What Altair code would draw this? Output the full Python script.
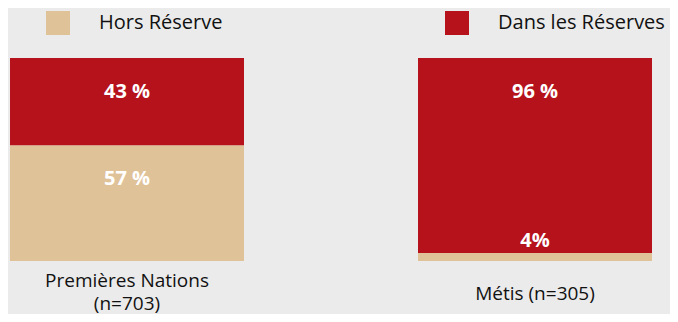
import altair as alt
import pandas as pd

categories = ["Premières Nations|(n=703)", "Métis (n=305)"]
series = ["Hors Réserve", "Dans les Réserves"]
hors_values = [57, 4]
dans_values = [43, 96]
hors_labels = ["57 %", "4%"]
dans_labels = ["43 %", "96 %"]
colors = ["#E0C299", "#B5121C"]

rows = []
for i, c in enumerate(categories):
    rows.append({"group": c, "series": series[0], "order": 0, "value": hors_values[i], "label": hors_labels[i]})
    rows.append({"group": c, "series": series[1], "order": 1, "value": dans_values[i], "label": dans_labels[i]})
df = pd.DataFrame(rows)

FONT = "Open Sans"

base = alt.Chart(df).transform_stack(
    stack="value", groupby=["group"], sort=[alt.SortField("order")], as_=["y0", "y1"]
)

x_enc = alt.X(
    "group:N",
    sort=categories,
    title=None,
    scale=alt.Scale(paddingInner=0.4265, paddingOuter=0),
    axis=alt.Axis(
        labelAngle=0,
        domain=False,
        ticks=False,
        tickSize=0,
        grid=False,
        labelFontSize=19,
        labelFont=FONT,
        labelColor="#111111",
        labelPadding={"condition": {"test": "indexof(datum.label, '|') < 0", "value": 32}, "value": 19},
        labelBaseline="middle",
        labelLineHeight=23,
        labelExpr="split(datum.label, '|')",
    ),
)
y_scale = alt.Scale(domain=[0, 100], nice=False, zero=True)

bars = base.mark_bar().encode(
    x=x_enc,
    y=alt.Y("y0:Q", scale=y_scale, axis=None),
    y2="y1:Q",
    color=alt.Color(
        "series:N",
        scale=alt.Scale(domain=series, range=colors),
        legend=alt.Legend(
            title=None,
            orient="none",
            legendX=36,
            legendY=-47,
            direction="horizontal",
            columns=2,
            symbolType="square",
            symbolSize=576,
            symbolStrokeWidth=0,
            symbolOpacity=1,
            labelFontSize=20,
            labelFont=FONT,
            labelColor="#111111",
            labelOffset=29,
            labelLimit=400,
            columnPadding=222,
        ),
    ),
)

text_big = base.transform_filter("datum.value >= 10").mark_text(
    color="white", fontWeight="bold", fontSize=20, font=FONT, baseline="middle", dy=34
).encode(x=alt.X("group:N", sort=categories), y=alt.Y("y1:Q", scale=y_scale), text="label:N")

text_small = base.transform_filter("datum.value < 10").mark_text(
    color="white", fontWeight="bold", fontSize=20, font=FONT, baseline="middle", dy=-12
).encode(x=alt.X("group:N", sort=categories), y=alt.Y("y1:Q", scale=y_scale), text="label:N")

chart = alt.layer(bars, text_big, text_small).properties(
    width=642,
    height=203,
    autosize=alt.AutoSizeParams(type="none"),
    padding={"left": 2, "top": 50, "right": 18, "bottom": 53},
    background="#EBEBEB",
).configure_view(stroke=None)

chart.save("out.html", embed_options={"renderer": "svg", "actions": False})
